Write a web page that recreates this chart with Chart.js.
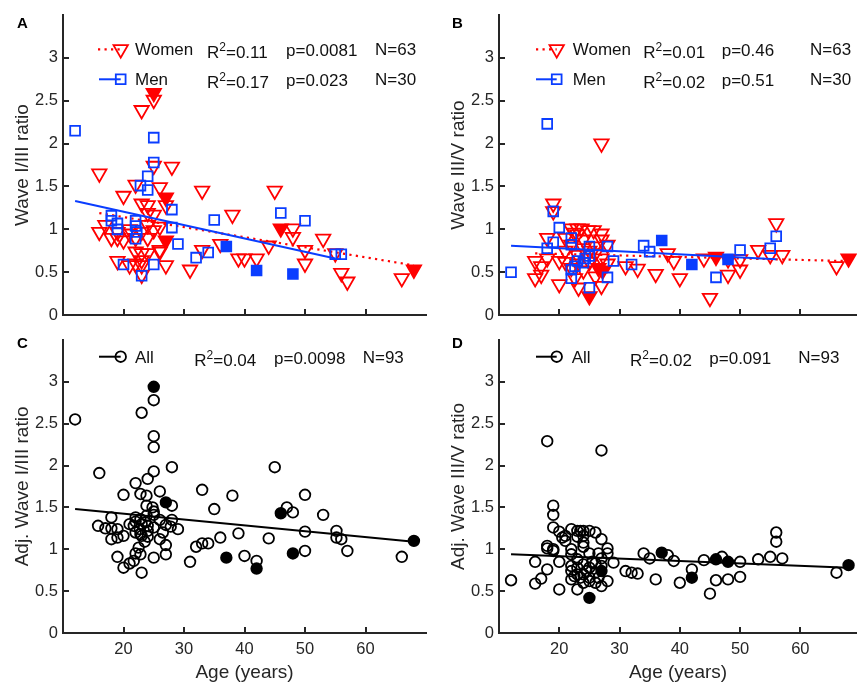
<!DOCTYPE html>
<html lang="en">
<head>
<meta charset="UTF-8">
<title>Wave ratios vs age</title>
<script src="https://cdn.jsdelivr.net/npm/chart.js"></script>
<style>
  body { margin: 0; background: #ffffff; }
  #fig { position: relative; width: 857px; height: 684px; overflow: hidden; background: #fff; }
  canvas { position: absolute; }
  #pA { left: 0; top: 0; }
  #pB { left: 430px; top: 0; }
  #pC { left: 0; top: 325px; }
  #pD { left: 430px; top: 325px; }
</style>
</head>
<body>
<div id="fig">
  <canvas id="pA" width="430" height="330"></canvas>
  <canvas id="pB" width="427" height="330"></canvas>
  <canvas id="pC" width="430" height="359"></canvas>
  <canvas id="pD" width="427" height="359"></canvas>
</div>
<script>
// ---- data: [age, ratio] ----
const yTicks = [0, 0.5, 1, 1.5, 2, 2.5, 3];
const xTicks = [20, 30, 40, 50, 60];

// A: wave I/III
const womenA = [
  [25,2.51],[23,2.39],[16,1.65],[25,1.74],[28,1.73],[22,1.52],[26,1.49],[20,1.39],[33,1.45],[45,1.45],
  [23,1.30],[24,1.28],[27,1.28],[24,1.19],[25,1.17],[38,1.17],[17,1.05],[16,0.97],[18,0.90],[19,0.90],
  [20,0.87],[21,0.95],[23,0.97],[25,0.99],[24,1.05],[26,1.03],[22,0.90],[26,0.76],[22,0.74],[23,0.72],
  [24,0.72],[19,0.63],[21,0.58],[22,0.60],[23,0.64],[23,0.58],[27,0.58],[31,0.53],[33,0.76],[36,0.83],
  [39,0.66],[40,0.66],[42,0.66],[44,0.81],[48,1.01],[48,0.91],[50,0.76],[50,0.60],[53,0.89],[55,0.72],
  [56,0.49],[57,0.39],[66,0.43],[26,0.74],[24,0.90],[23,0.47],[21,1.00],[19,0.97]
];
const womenA_f = [[25,2.59],[27,1.37],[27,0.87],[46,1.01],[68,0.53]];
const menA = [
  [12,2.15],[25,2.07],[25,1.78],[24,1.62],[22.8,1.51],[24,1.46],[28,1.23],[18,1.16],[18,1.10],[19,1.00],
  [22,1.10],[22,1.04],[22,0.89],[28,1.02],[29,0.83],[35,1.11],[32,0.67],[34,0.73],[20,0.59],[23,0.46],
  [25,0.59],[46,1.19],[50,1.10],[55,0.71],[56,0.71],[19,1.07],[22.2,0.97]
];
const menA_f = [[37,0.80],[42,0.52],[48,0.48]];
const womenFitA = [[16,1.19],[68,0.58]];
const menFitA = [[12,1.33],[55,0.66]];

// B: wave III/V
const womenB = [
  [19,1.30],[19,1.21],[27,2.00],[18,0.90],[16,0.63],[17,0.57],[16,0.43],[17,0.47],[20,0.63],[20,0.36],
  [22,1.01],[23,1.01],[23.7,1.01],[24.8,0.99],[25.7,0.99],[23,0.94],[24,0.88],[27,0.88],[28,0.82],[26,0.72],
  [27,0.66],[22.6,0.43],[23.2,0.32],[27,0.34],[31,0.57],[33,0.54],[36,0.48],[38,0.72],[39,0.63],[40,0.43],
  [45,0.20],[44,0.66],[48,0.47],[50,0.53],[50,0.65],[53,0.76],[55,0.70],[56,1.07],[57,0.70],[66,0.57],
  [48,0.65],[22,0.82],[21,0.90],[24,0.78],[25,0.62],[23,0.70],[26,0.80],[28,0.60],[21,0.62],[22,0.55],
  [24,0.52],[26,0.45],[18,0.66],[23,0.60],[25,0.75],[27,0.95],[22.5,0.96],[21,0.75]
];
const womenB_f = [[25,0.22],[26.5,0.55],[27.2,0.52],[46,0.68],[68,0.66]];
const menB = [
  [18,2.23],[12,0.50],[19,1.21],[20,1.02],[18,0.78],[19,0.85],[22,0.90],[22,0.82],[25,0.80],[28,0.80],
  [25,0.69],[23,0.63],[24,0.61],[22,0.53],[22,0.43],[25,0.32],[28,0.44],[29,0.63],[32,0.59],[34,0.81],
  [35,0.74],[46,0.44],[50,0.76],[55,0.78],[56,0.92],[22.6,0.57],[24.3,0.66]
];
const menB_f = [[37,0.87],[42,0.59],[48,0.65]];
const womenFitB = [[16,0.72],[68,0.63]];
const menFitB = [[12,0.81],[56,0.65]];

// C: adjusted wave I/III, all subjects
const allC = [
  [12,2.55],[25,2.78],[23,2.63],[25,2.35],[25,2.22],[16,1.91],[28,1.98],[25,1.93],[24,1.84],[22,1.79],
  [26,1.69],[20,1.65],[22.8,1.66],[23.8,1.64],[33,1.71],[38,1.64],[35,1.48],[28,1.52],[23.8,1.52],[24.8,1.50],
  [25,1.41],[23.8,1.40],[18,1.38],[22,1.38],[22.8,1.36],[15.8,1.28],[17,1.25],[18,1.25],[19,1.24],[20,1.16],
  [18,1.12],[19,1.14],[21.7,1.28],[22.7,1.24],[23.6,1.32],[22,1.20],[22.8,1.18],[27,1.29],[27.8,1.27],[29,1.24],
  [26,1.12],[27,1.05],[27,0.94],[19,0.91],[20,0.78],[21,0.83],[22,0.95],[22.8,0.94],[23,0.72],[25,0.90],
  [31,0.85],[32,1.03],[33,1.07],[34,1.07],[36,1.14],[39,1.19],[40,0.92],[21.7,0.86],[24,1.28],[25,1.26],
  [23.5,1.09],[23,1.16],[45,1.98],[50,1.65],[47,1.50],[48,1.44],[53,1.41],[50,1.21],[55.2,1.22],[55.2,1.14],
  [56,1.12],[57,0.98],[50,0.98],[44,1.13],[42,0.86],[66,0.91],[22,1.33],[23,1.30],[24,1.22],[25,1.45],
  [26,1.35],[21,1.30],[28,1.35],[24,1.15],[22.5,1.02],[26.5,1.20]
];
const allC_f = [[25,2.94],[27,1.56],[37,0.90],[42,0.77],[46,1.43],[48,0.95],[68,1.10]];
const fitC = [[12,1.48],[68,1.09]];

// D: adjusted wave III/V, all subjects
const allD = [
  [18,2.29],[27,2.18],[12,0.63],[19,1.52],[19,1.41],[19,1.26],[20,1.21],[21,1.16],[22,1.24],[23,1.22],
  [24,1.22],[25,1.22],[23,1.15],[24,1.16],[27,1.12],[28,1.01],[24,1.03],[18,1.01],[18,1.04],[19,0.98],
  [20,0.85],[16,0.85],[18,0.76],[17,0.65],[16,0.59],[20,0.52],[22,0.94],[22,0.74],[22,0.64],[23,0.70],
  [23,0.52],[24,0.70],[25,0.62],[25,0.78],[26,0.83],[27,0.56],[28,0.62],[27,0.89],[29,0.84],[31,0.74],
  [32,0.72],[33,0.71],[34,0.95],[35,0.89],[36,0.64],[38,0.93],[39,0.86],[40,0.60],[42,0.76],[44,0.87],
  [45,0.47],[46,0.63],[47,0.91],[48,0.64],[50,0.85],[50,0.67],[53,0.88],[55,0.91],[56,1.20],[56,1.09],
  [57,0.89],[66,0.72],[22,0.80],[22.5,0.68],[23,0.78],[23.5,0.66],[24,0.60],[24,0.82],[24.5,0.74],[25,0.66],
  [25.5,0.85],[26,0.60],[26,0.72],[26.5,0.66],[27,0.80],[23,0.88],[22,1.00],[21,1.10],[24,1.08],[25,0.95],
  [26,1.20],[23.5,1.22],[26.5,0.95],[28,0.95],[19,1.00],[20.5,1.14]
];
const allD_f = [[25,0.42],[27,0.74],[37,0.96],[42,0.66],[46,0.88],[48,0.85],[68,0.81]];
const fitD = [[12,0.94],[68,0.78]];

// ---- styling ----
const RED = '#ff0000', BLUE = '#0a3dff', BLACK = '#000000';
const AXIS = '#262626', TEXT = '#262626';
const FONT = "'Liberation Sans', Arial, Helvetica, sans-serif";
const SIZES = { triangle: 8.3, rect: 6.9, circle: 5.3 };

function pts(a) { return a.map(p => ({ x: p[0], y: p[1] })); }

function marks(data, style, color, filled, order) {
  return {
    type: 'scatter', data: pts(data), order, clip: false,
    pointStyle: style, rotation: style === 'triangle' ? 180 : 0,
    radius: SIZES[style], hoverRadius: SIZES[style],
    borderColor: color, backgroundColor: filled ? color : 'rgba(0,0,0,0)',
    borderWidth: 1.8
  };
}
function fit(data, color, dotted, order) {
  return {
    type: 'line', data: pts(data), order, clip: false,
    borderColor: color, borderWidth: dotted ? 2.2 : 2,
    borderDash: dotted ? [2.2, 4.3] : [], pointRadius: 0, fill: false, tension: 0
  };
}

// inward tick marks, MATLAB style
const inTicks = {
  id: 'inTicks',
  afterDatasetsDraw(chart) {
    const { ctx, chartArea: a, scales: { x, y } } = chart;
    ctx.save();
    ctx.strokeStyle = AXIS; ctx.lineWidth = 2;
    ctx.beginPath();
    xTicks.forEach(v => {
      const px = Math.round(x.getPixelForValue(v));
      ctx.moveTo(px, a.bottom); ctx.lineTo(px, a.bottom - 6);
    });
    yTicks.forEach(v => {
      const py = Math.round(y.getPixelForValue(v));
      ctx.moveTo(a.left, py); ctx.lineTo(a.left + 6, py);
    });
    ctx.stroke();
    ctx.restore();
  }
};

function drawMarker(ctx, ds, x, y) {
  const r = ds.radius;
  ctx.save();
  ctx.strokeStyle = ds.borderColor; ctx.lineWidth = ds.borderWidth;
  ctx.beginPath();
  if (ds.pointStyle === 'triangle') {
    const s = Math.sin(Math.PI / 3) * r;
    ctx.moveTo(x, y + r); ctx.lineTo(x - s, y - r / 2); ctx.lineTo(x + s, y - r / 2); ctx.closePath();
  } else if (ds.pointStyle === 'rect') {
    const h = Math.SQRT1_2 * r;
    ctx.rect(x - h, y - h, 2 * h, 2 * h);
  } else {
    ctx.arc(x, y, r, 0, Math.PI * 2);
  }
  ctx.stroke();
  ctx.restore();
}

// legend with fit statistics, plus the panel letter
const statLegend = {
  id: 'statLegend',
  afterDraw(chart, args, o) {
    const ctx = chart.ctx;
    ctx.save();
    ctx.textAlign = 'left';
    ctx.textBaseline = 'alphabetic';
    ctx.fillStyle = '#000';
    ctx.font = `bold 15px ${FONT}`;
    ctx.fillText(o.letter, o.lx, o.ly);
    o.rows.forEach(r => {
      const line = chart.data.datasets[r.lineDs];
      const mark = chart.data.datasets[r.markDs];
      ctx.save();
      ctx.strokeStyle = line.borderColor; ctx.lineWidth = line.borderWidth;
      ctx.setLineDash(line.borderDash || []);
      ctx.beginPath(); ctx.moveTo(r.x0, r.y); ctx.lineTo(r.mx, r.y); ctx.stroke();
      ctx.restore();
      drawMarker(ctx, mark, r.mx, r.y);
      ctx.fillStyle = '#111';
      ctx.font = `17px ${FONT}`;
      ctx.fillText(r.label, r.tx, r.b);
      // R^2
      let x = r.rx;
      ctx.fillText('R', x, r.b + 3);
      x += ctx.measureText('R').width;
      ctx.font = `12px ${FONT}`;
      ctx.fillText('2', x, r.b - 4);
      x += ctx.measureText('2').width;
      ctx.font = `17px ${FONT}`;
      ctx.fillText('=' + r.r2, x, r.b + 3);
      ctx.fillText('p=' + r.p, r.px, r.b + 1);
      ctx.fillText('N=' + r.n, r.nx, r.b);
    });
    ctx.restore();
  }
};

function makeChart(id, datasets, cfg) {
  return new Chart(document.getElementById(id), {
    type: 'scatter',
    data: { datasets },
    plugins: [inTicks, statLegend],
    options: {
      responsive: false, animation: false, events: [],
      layout: { autoPadding: false, padding: { top: cfg.top, right: cfg.right, left: 0, bottom: 0 } },
      plugins: { legend: { display: false }, tooltip: { enabled: false }, statLegend: cfg.legend },
      scales: {
        x: {
          type: 'linear', min: 10, max: cfg.xmax,
          grid: { display: false, drawTicks: false },
          border: { display: true, color: AXIS, width: 2 },
          afterBuildTicks: s => { s.ticks = xTicks.map(v => ({ value: v })); },
          afterFit: s => { s.height = cfg.xh; },
          ticks: { display: cfg.xlabels, color: TEXT, padding: 7, maxRotation: 0,
                   font: { family: FONT, size: 16.5 }, callback: v => String(v) },
          title: { display: cfg.xlabels, text: 'Age (years)', color: TEXT,
                   font: { family: FONT, size: 19 }, padding: { top: 0, bottom: 0 } }
        },
        y: {
          type: 'linear', min: 0, max: 3.5,
          grid: { display: false, drawTicks: false },
          border: { display: true, color: AXIS, width: 2 },
          afterBuildTicks: s => { s.ticks = yTicks.map(v => ({ value: v })); },
          afterFit: s => { s.width = cfg.yw; },
          ticks: { color: TEXT, padding: 5, font: { family: FONT, size: 16.5 }, callback: v => String(v) },
          title: { display: true, text: cfg.ytitle, color: TEXT,
                   font: { family: FONT, size: 19 }, padding: { top: cfg.tpad, bottom: 0 } }
        }
      }
    }
  });
}

// Panel A
makeChart('pA', [
  marks(womenA, 'triangle', RED, false, 6),
  marks(womenA_f, 'triangle', RED, true, 5),
  fit(womenFitA, RED, true, 4),
  marks(menA, 'rect', BLUE, false, 2),
  marks(menA_f, 'rect', BLUE, true, 1),
  fit(menFitA, BLUE, false, 0)
], {
  top: 15, right: 4, yw: 63, xh: 13, xmax: 70, xlabels: false, ytitle: 'Wave I/III ratio', tpad: 11,
  legend: {
    letter: 'A', lx: 17, ly: 28,
    rows: [
      { lineDs: 2, markDs: 0, x0: 98, mx: 120.7, y: 49.3, label: 'Women', tx: 135, b: 55,
        rx: 207, r2: '0.11', px: 286, p: '0.0081', nx: 375, n: '63' },
      { lineDs: 5, markDs: 3, x0: 99, mx: 120.7, y: 79.3, label: 'Men', tx: 135, b: 85,
        rx: 207, r2: '0.17', px: 286, p: '0.023', nx: 375, n: '30' }
    ]
  }
});

// Panel B
makeChart('pB', [
  marks(womenB, 'triangle', RED, false, 6),
  marks(womenB_f, 'triangle', RED, true, 5),
  fit(womenFitB, RED, true, 4),
  marks(menB, 'rect', BLUE, false, 2),
  marks(menB_f, 'rect', BLUE, true, 1),
  fit(menFitB, BLUE, false, 0)
], {
  top: 15, right: 0, yw: 69, xh: 13, xmax: 69.4, xlabels: false, ytitle: 'Wave III/V ratio', tpad: 17.5,
  legend: {
    letter: 'B', lx: 22, ly: 28,
    rows: [
      { lineDs: 2, markDs: 0, x0: 106, mx: 126.7, y: 49.3, label: 'Women', tx: 142.7, b: 55,
        rx: 213.3, r2: '0.01', px: 291.7, p: '0.46', nx: 380, n: '63' },
      { lineDs: 5, markDs: 3, x0: 106, mx: 126.7, y: 79.3, label: 'Men', tx: 142.7, b: 85,
        rx: 213.3, r2: '0.02', px: 291.7, p: '0.51', nx: 380, n: '30' }
    ]
  }
});

// Panel C
makeChart('pC', [
  marks(allC, 'circle', BLACK, false, 3),
  marks(allC_f, 'circle', BLACK, true, 2),
  fit(fitC, BLACK, false, 0)
], {
  top: 7, right: 4, yw: 63, xh: 51, xmax: 70, xlabels: true, ytitle: 'Adj. Wave I/III ratio', tpad: 11,
  legend: {
    letter: 'C', lx: 17, ly: 23,
    rows: [
      { lineDs: 2, markDs: 0, x0: 99, mx: 120.7, y: 31.7, label: 'All', tx: 135, b: 38,
        rx: 194.3, r2: '0.04', px: 274, p: '0.0098', nx: 362.7, n: '93' }
    ]
  }
});

// Panel D
makeChart('pD', [
  marks(allD, 'circle', BLACK, false, 3),
  marks(allD_f, 'circle', BLACK, true, 2),
  fit(fitD, BLACK, false, 0)
], {
  top: 7, right: 0, yw: 69, xh: 51, xmax: 69.4, xlabels: true, ytitle: 'Adj. Wave III/V ratio', tpad: 17.5,
  legend: {
    letter: 'D', lx: 22, ly: 23,
    rows: [
      { lineDs: 2, markDs: 0, x0: 106, mx: 126.7, y: 31.7, label: 'All', tx: 141.7, b: 38,
        rx: 200, r2: '0.02', px: 279.3, p: '0.091', nx: 368.3, n: '93' }
    ]
  }
});
</script>
</body>
</html>
